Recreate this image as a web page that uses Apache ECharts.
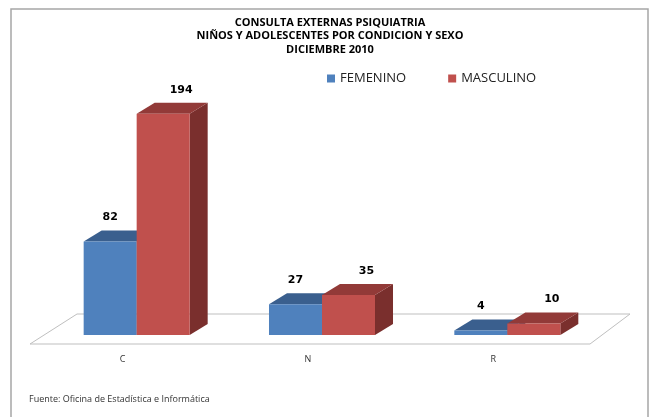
<!DOCTYPE html>
<html>
<head>
<meta charset="utf-8">
<script src="https://cdn.jsdelivr.net/npm/echarts@6/dist/echarts.min.js"></script>
<style>
  html, body { margin: 0; padding: 0; background: #fff; }
  #chart { width: 650px; height: 417px; }
</style>
</head>
<body>
<div id="chart"></div>
<script>
// datos
const categories = ['C', 'N', 'R'];
const femenino = [82, 27, 4];
const masculino = [194, 35, 10];

const DX = 18, DY = -11; // profundidad 3D en px

const chart = echarts.init(document.getElementById('chart'));

// barra 3d: cara frontal, superior y lateral
function bar3d(colors, side) {
  return function (params, api) {
    const idx = api.value(0);
    const val = api.value(1);
    const top = api.coord([idx, val]);
    const base = api.coord([idx, 0]);
    const band = api.size([1, 0])[0];
    const w = band * 0.286;
    const x0 = side < 0 ? top[0] - w : top[0];
    const yT = top[1], yB = base[1];
    const lx = side < 0 ? x0 + w / 2 : x0 + w / 2 + DX;
    return {
      type: 'group',
      children: [
        { type: 'polygon', shape: { points: [[x0 + w, yT], [x0 + w + DX, yT + DY], [x0 + w + DX, yB + DY], [x0 + w, yB]] },
          style: { fill: colors.side } },
        { type: 'polygon', shape: { points: [[x0, yT], [x0 + DX, yT + DY], [x0 + w + DX, yT + DY], [x0 + w, yT]] },
          style: { fill: colors.top } },
        { type: 'rect', shape: { x: x0, y: yT, width: w, height: yB - yT },
          style: { fill: colors.front } },
        { type: 'text', x: lx, y: yT + DY - 13,
          style: { text: String(val), fill: '#000', font: 'bold 11px "DejaVu Sans"', align: 'center', verticalAlign: 'middle' } }
      ]
    };
  };
}

const option = {
  animation: false,
  backgroundColor: '#fff',
  title: {
    text: 'CONSULTA EXTERNAS PSIQUIATRIA\nNIÑOS Y ADOLESCENTES POR CONDICION Y SEXO\nDICIEMBRE 2010',
    left: 325, top: 11, textAlign: 'center',
    textStyle: { fontFamily: 'Open Sans', fontWeight: 'bold', fontSize: 11, lineHeight: 13.5, color: '#000' }
  },
  legend: {
    data: ['FEMENINO', 'MASCULINO'],
    left: 322, top: 67,
    icon: 'rect', itemWidth: 8, itemHeight: 8, itemGap: 42,
    textStyle: { fontFamily: 'Open Sans', fontSize: 13, color: '#222' }
  },
  graphic: [
    { type: 'rect', shape: { x: 11, y: 9, width: 637, height: 430 }, style: { fill: 'none', stroke: '#a6a6a6', lineWidth: 1.5 }, silent: true },
    { type: 'text', left: 29, top: 395, style: { text: 'Fuente: Oficina de Estadística e Informática', font: '9px "Open Sans"', fill: '#333' } }
  ],
  grid: { left: 44, right: 50, top: 107, bottom: 82 },
  xAxis: {
    type: 'category', data: categories,
    axisLine: { show: false }, axisTick: { show: false },
    axisLabel: { margin: 20, fontFamily: 'Open Sans', fontSize: 9, color: '#333', padding: [0, 28, 0, 0] }
  },
  yAxis: { type: 'value', min: 0, max: 200, show: false, splitLine: { show: false } },
  series: [
    {
      name: 'piso', type: 'custom', z: 1, silent: true,
      data: [[0, 0]],
      renderItem: function (params, api) {
        const cs = params.coordSys;
        const yb = api.coord([0, 0])[1];
        const fl = cs.x - 14, fr = cs.x + cs.width - 10;
        return {
          type: 'polygon',
          shape: { points: [[fl, yb + 9], [fr, yb + 9], [fr + 40, yb - 21], [fl + 47, yb - 21]] },
          style: { fill: '#fff', stroke: '#bfbfbf', lineWidth: 1 }
        };
      }
    },
    {
      name: 'FEMENINO', type: 'custom', z: 2,
      itemStyle: { color: '#4F81BD' },
      data: femenino.map((v, i) => [i, v]),
      renderItem: bar3d({ front: '#4F81BD', top: '#3A5F8E', side: '#2E4B70' }, -1)
    },
    {
      name: 'MASCULINO', type: 'custom', z: 3,
      itemStyle: { color: '#C0504D' },
      data: masculino.map((v, i) => [i, v]),
      renderItem: bar3d({ front: '#C0504D', top: '#923A38', side: '#7A2F2D' }, 1)
    }
  ]
};

chart.setOption(option);
</script>
</body>
</html>
